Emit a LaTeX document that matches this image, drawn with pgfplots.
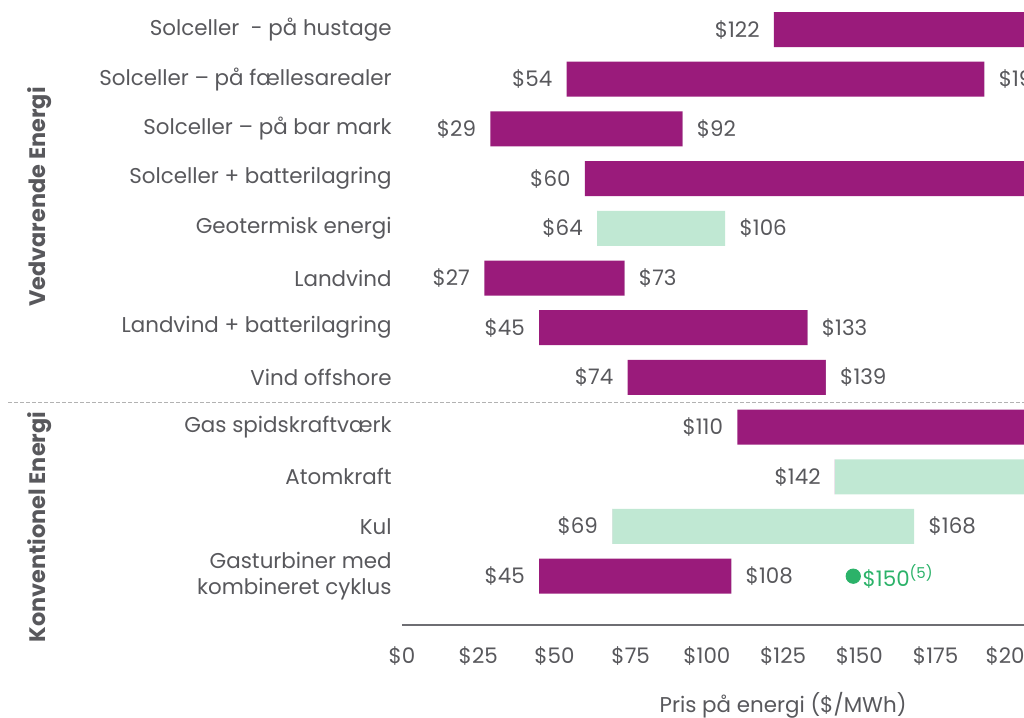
\documentclass[border=0pt]{standalone}
\usepackage{pgfplots}
\pgfplotsset{compat=1.18}
\usepackage{pgfplotstable}
\usepackage{fontspec}
\setmainfont{Poppins}

\definecolor{lcoepurple}{RGB}{154,27,123}
\definecolor{lcoemint}{RGB}{192,232,211}
\definecolor{lcoegreen}{RGB}{43,178,105}
\definecolor{txtgray}{RGB}{88,88,92}
\definecolor{axgray}{RGB}{110,110,115}

% pos counts from the bottom; p=1 purple, p=0 mint
\pgfplotstableread{
pos low high p
12 122 282 1
11 54 191 1
10 29 92 1
9 60 210 1
8 64 106 0
7 27 73 1
6 45 133 1
5 74 139 1
4 110 228 1
3 142 222 0
2 69 168 0
1 45 108 1
}\lcoe

\begin{document}
\begin{tikzpicture}
\useasboundingbox (0,0) rectangle (512pt,359pt);
\clip (0,0) rectangle (512pt,359pt);
\begin{axis}[
  at={(201pt,359pt)}, anchor=north west,
  scale only axis, width=311pt, height=312.5pt,
  xmin=0, xmax=204, ymin=0.018, ymax=12.594,
  axis x line=bottom, axis y line=left,
  x axis line style={-, axgray, line width=1pt},
  y axis line style={draw=none},
  xtick={0,25,...,200},
  xticklabel={\$\pgfmathprintnumber{\tick}},
  ytick={1,...,12},
  yticklabels={{Gasturbiner med\\kombineret cyklus}, Kul, Atomkraft,
    Gas spidskraftværk, Vind offshore, Landvind + batterilagring, Landvind,
    Geotermisk energi, Solceller + batterilagring, Solceller – på bar mark,
    Solceller – på fællesarealer, Solceller\ \ - på hustage},
  major tick length=0pt,
  tick style={draw=none},
  /pgf/number format/assume math mode=true,
  tick label style={font=\fontsize{10.7}{12.8}\selectfont, text=txtgray},
  xticklabel style={inner sep=0pt, yshift=-10.5pt},
  yticklabel style={align=right, inner sep=0pt, xshift=-5pt},
  clip mode=individual,
  xlabel={Pris på energi (\$/MWh)},
  x label style={at={(rel axis cs:0.6127,0)}, anchor=center, yshift=-40pt,
    text=txtgray, font=\fontsize{10.7}{12.8}\selectfont},
]
\addplot[xbar, stack plots=x, bar shift=0pt, bar width=17.5pt, draw=none, fill=none]
  table[x=low, y=pos] {\lcoe};
\addplot[xbar, stack plots=x, bar shift=0pt, bar width=17.5pt, draw=none, fill=lcoepurple]
  table[x expr=(\thisrow{high}-\thisrow{low})*\thisrow{p}, y=pos] {\lcoe};
\addplot[xbar, stack plots=x, bar shift=0pt, bar width=17.5pt, draw=none, fill=lcoemint]
  table[x expr=(\thisrow{high}-\thisrow{low})*(1-\thisrow{p}), y=pos] {\lcoe};

% value labels
\addplot[draw=none, mark=none, point meta=x,
  nodes near coords={\$\pgfmathprintnumber{\pgfplotspointmeta}},
  every node near coord/.append style={anchor=east, inner sep=0pt, xshift=-7pt,
    text=txtgray, font=\fontsize{10.7}{12.8}\selectfont}]
  table[x=low, y=pos] {\lcoe};
\addplot[draw=none, mark=none, point meta=x,
  nodes near coords={\$\pgfmathprintnumber{\pgfplotspointmeta}},
  every node near coord/.append style={anchor=west, inner sep=0pt, xshift=7pt,
    text=txtgray, font=\fontsize{10.7}{12.8}\selectfont}]
  table[x=high, y=pos] {\lcoe};

% marker on the combined cycle row
\addplot[only marks, mark=*, mark size=3.6pt, color=lcoegreen,
  nodes near coords={\$150\textsuperscript{(5)}},
  every node near coord/.append style={anchor=west, inner sep=0pt, xshift=4.5pt,
    text=lcoegreen, font=\fontsize{10.7}{12.8}\selectfont}]
  coordinates {(148,1)};

\coordinate (sep) at (axis cs:0,4.5);
\end{axis}
\draw[gray!60, line width=0.5pt, dash pattern=on 2pt off 1pt] (4pt,0 |- sep) -- (512pt,0 |- sep);
\node[rotate=90, text=txtgray, font=\bfseries\fontsize{11.2}{13}\selectfont] at (20pt,260.5pt) {Vedvarende Energi};
\node[rotate=90, text=txtgray, font=\bfseries\fontsize{11.2}{13}\selectfont] at (20pt,95.5pt) {Konventionel Energi};
\end{tikzpicture}
\end{document}
